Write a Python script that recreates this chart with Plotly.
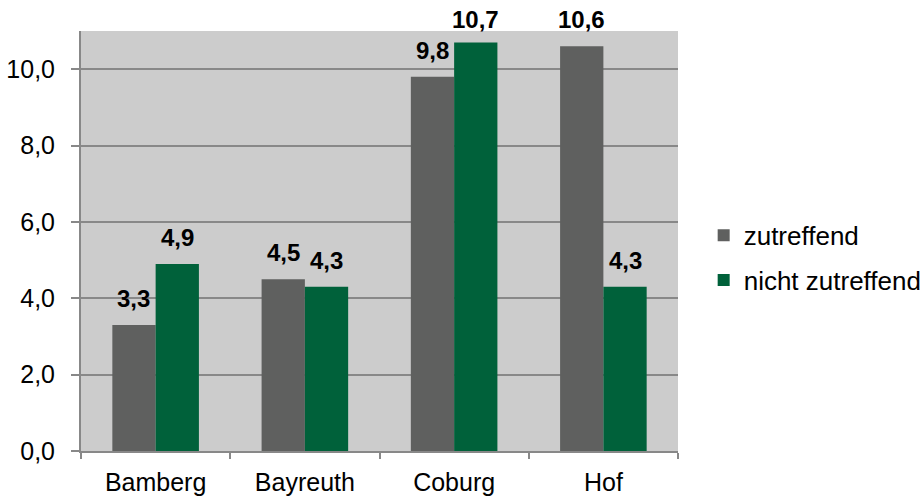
import plotly.graph_objects as go

categories = ["Bamberg", "Bayreuth", "Coburg", "Hof"]
zutreffend = [3.3, 4.5, 9.8, 10.6]
nicht_zutreffend = [4.9, 4.3, 10.7, 4.3]
series_names = ["zutreffend", "nicht zutreffend"]
series_colors = ["#5f605f", "#00613a"]
tick_vals = [0, 2, 4, 6, 8, 10]
tick_text = ["0,0", "2,0", "4,0", "6,0", "8,0", "10,0"]

FONT = "Liberation Sans, Arial, sans-serif"

def fmt(v):
    return f"{v:.1f}".replace(".", ",")

fig = go.Figure()
for i, (name, vals) in enumerate(zip(series_names, [zutreffend, nicht_zutreffend])):
    fig.add_trace(go.Bar(
        x=categories, y=vals, name=name, marker_color=series_colors[i],
        marker_line_width=0, legendgroup=name,
    ))

# data labels above bars
bar_half = 597 / 4 * (1 - 0.42) / 4
annotations = []
for i, vals in enumerate([zutreffend, nicht_zutreffend]):
    sign = -1 if i == 0 else 1
    for c, v in zip(categories, vals):
        annotations.append(dict(
            x=c, y=v, xref="x", yref="y", text="<b>" + fmt(v) + "</b>",
            showarrow=False, yanchor="bottom", xanchor="center",
            xshift=sign * bar_half, yshift=11 if v < 10.65 else 7,
            font=dict(family=FONT, size=24, color="black"),
        ))

fig.update_layout(
    width=923, height=496,
    margin=dict(l=81, r=245, t=31, b=45, autoexpand=False),
    paper_bgcolor="white", plot_bgcolor="#cccccc",
    barmode="group", bargap=0.42, bargroupgap=0,
    font=dict(family=FONT, size=25, color="black"),
    legend=dict(x=1.043, y=0.46, yanchor="middle", xanchor="left",
                font=dict(size=26), tracegroupgap=8, itemwidth=30,
                traceorder="grouped"),
    showlegend=True,
    annotations=annotations,
)
fig.update_xaxes(showline=True, linecolor="#888888", linewidth=2,
                 ticks="outside", tickson="boundaries", ticklen=6, tickwidth=1.5,
                 tickcolor="#888888", showgrid=False, automargin=False,
                 ticklabelstandoff=8)
fig.update_yaxes(range=[0, 11], tickvals=tick_vals, ticktext=tick_text,
                 showline=True, linecolor="#888888", linewidth=2,
                 ticks="outside", ticklen=8, tickwidth=1.5, tickcolor="#888888",
                 showgrid=True, gridcolor="#888888", gridwidth=1.5, zeroline=False,
                 automargin=False, ticklabelstandoff=11)

fig.write_html("out.html")
